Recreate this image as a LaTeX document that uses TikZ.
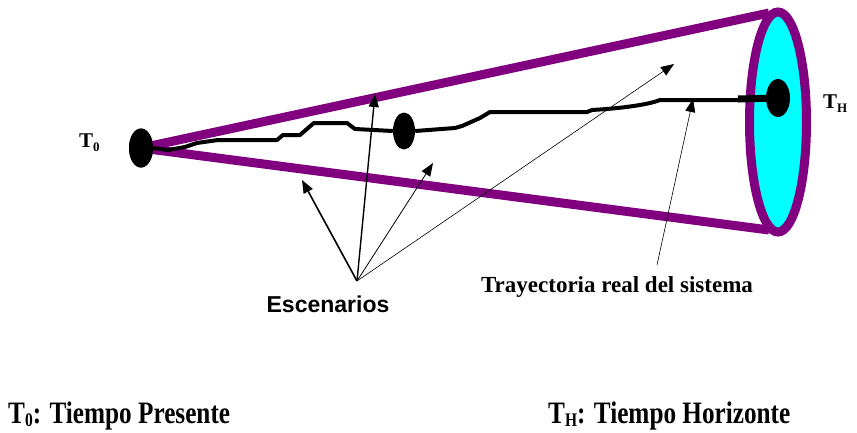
\documentclass[tikz,border=0pt]{standalone}
\usepackage{fontspec}
\usepackage{graphicx}
\setmainfont{Liberation Serif}
\setsansfont{Liberation Sans}
\usetikzlibrary{shapes.geometric,arrows.meta}
\definecolor{conepurple}{RGB}{128,0,128}
\definecolor{disccyan}{RGB}{0,255,255}
\newcommand{\subT}[1]{{\fontsize{13}{13}\selectfont\raisebox{-4pt}{#1}}}
\newcommand{\subB}[1]{{\fontsize{16}{16}\selectfont\raisebox{-3pt}{#1}}}
\begin{document}
\begin{tikzpicture}[x=1pt,y=-1pt,
  dot/.style={ellipse,fill=black,inner sep=0pt},
  coneline/.style={draw=conepurple,line width=9pt},
  traj/.style={line width=4pt,line join=round},
  scen/.style={-{Triangle[length=13pt,width=10pt]}},
  lbl/.style={font=\bfseries\fontsize{21}{24}\selectfont,inner sep=0pt},
  bottomlbl/.style={font=\bfseries\fontsize{26}{28}\selectfont,inner sep=0pt,anchor=base west}]
\useasboundingbox (0,0) rectangle (857,432);
% nodes
\node[dot,minimum width=24pt,minimum height=39pt] (t0dot) at (141,148) {};
\coordinate (ctop) at (769,13);
\coordinate (cbot) at (769,230);
\draw[coneline] (t0dot.center) -- (ctop);
\draw[coneline] (t0dot.center) -- (cbot);
\node[ellipse,draw=conepurple,fill=disccyan,line width=9pt,inner sep=0pt,
      minimum width=57pt,minimum height=220pt] (disc) at (778,122) {};
\node[dot,minimum width=24pt,minimum height=38pt] (hdot) at (778,98) {};
\node[dot,minimum width=22pt,minimum height=37pt] (mid) at (404,131) {};
\node[dot,minimum width=24pt,minimum height=39pt] at (141,148) {};
% trajectory
\draw[traj] (t0dot.east) -- (168,150) -- (185,147) -- (197,143) -- (218,140) -- (277,140)
  -- (283,135) -- (300,135) -- (308,128) -- (314,123) -- (347,123) -- (355,129) -- (mid.west);
\draw[traj] (mid.east) -- (455,128) -- (462,126) -- (480,118) -- (490,112) -- (587,112)
  -- (592,110) -- (607,109) .. controls (630,107) and (650,104) .. (660,100) -- (740,100);
\coordinate (stub) at (738,99);
\draw[line width=7pt] (stub) -- (hdot.center);
% labels
\node[lbl,anchor=base west] (t0lbl) at (79,147) {T\subT{0}};
\node[lbl,anchor=base west] (thlbl) at (823,108) {T\subT{H}};
\node[font=\sffamily\bfseries\fontsize{23}{26}\selectfont,inner sep=0pt] (esc) at (328,304) {Escenarios};
\node[font=\bfseries\fontsize{23}{26}\selectfont,inner sep=0pt] (tray) at (617,287) {Trayectoria real del sistema};
\coordinate (src) at (357,281);
\coordinate (a1) at (302,180);
\coordinate (a2) at (375,94);
\coordinate (a3) at (433,163);
\coordinate (a4) at (674,64);
\draw[scen,line width=1.6pt] (src) -- (a1);
\draw[scen,line width=1.4pt] (src) -- (a2);
\draw[scen,line width=0.8pt] (src) -- (a3);
\draw[scen,line width=0.6pt] (src) -- (a4);
\coordinate (trsrc) at (657,265);
\coordinate (trtip) at (693,99);
\draw[scen,line width=0.6pt] (trsrc) -- (trtip);
% bottom legend
\node[bottomlbl] (leg0) at (8,423) {\scalebox{0.97}[1.2]{T\subB{0}: Tiempo Presente}};
\node[bottomlbl] (legh) at (548,423) {\scalebox{0.97}[1.2]{T\subB{H}: Tiempo Horizonte}};
\end{tikzpicture}
\end{document}
